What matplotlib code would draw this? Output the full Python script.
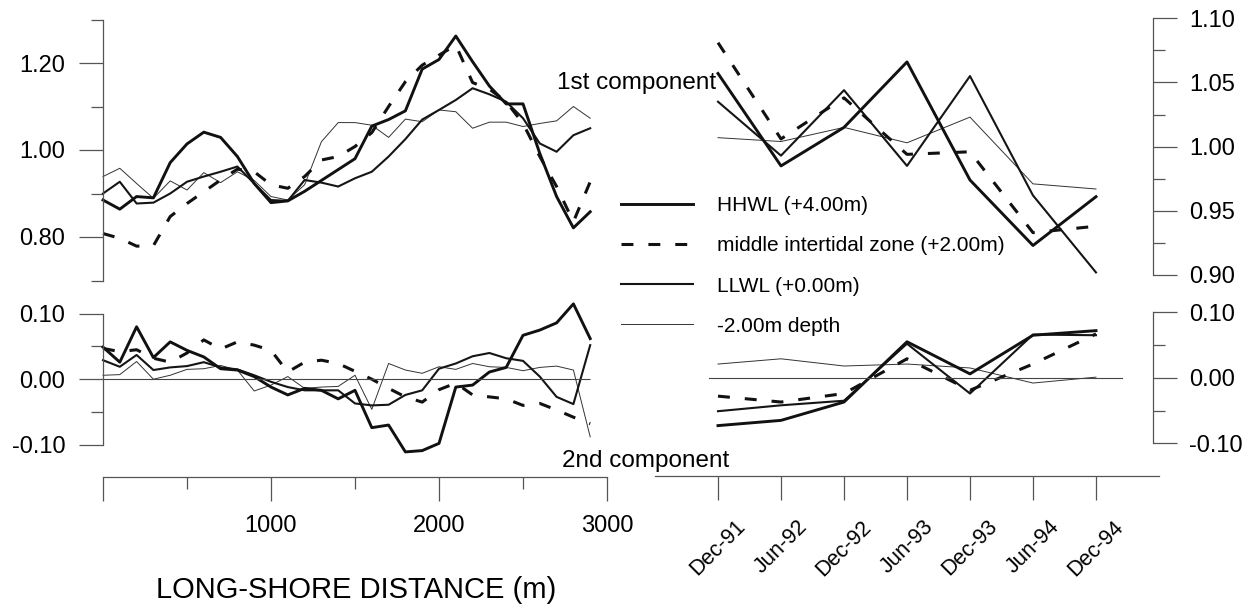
import matplotlib
matplotlib.use("Agg")
from matplotlib import pyplot as plt

plt.rcParams['font.family'] = ['Liberation Sans', 'DejaVu Sans']

# long-shore distance (m) for the left panels
dist = list(range(0, 3000, 100))

# 1st component, left
hhwl_1 = [0.885, 0.864, 0.893, 0.890, 0.971, 1.014, 1.041, 1.029, 0.985, 0.923,
          0.879, 0.883, 0.905, 0.930, 0.955, 0.980, 1.055, 1.070, 1.090, 1.186,
          1.208, 1.262, 1.203, 1.147, 1.106, 1.106, 0.992, 0.893, 0.821, 0.858]
mid_1 = [0.808, 0.797, 0.779, 0.780, 0.847, 0.877, 0.904, 0.931, 0.956, 0.950,
         0.920, 0.912, 0.939, 0.977, 0.985, 1.008, 1.040, 1.100, 1.157, 1.195,
         1.218, 1.241, 1.155, 1.140, 1.111, 1.061, 0.985, 0.916, 0.835, 0.927]
llwl_1 = [0.900, 0.927, 0.877, 0.879, 0.900, 0.927, 0.939, 0.950, 0.962, 0.923,
          0.885, 0.883, 0.931, 0.925, 0.916, 0.935, 0.950, 0.985, 1.025, 1.070,
          1.092, 1.115, 1.142, 1.128, 1.111, 1.073, 1.015, 0.996, 1.034, 1.050]
depth_1 = [0.939, 0.958, 0.923, 0.889, 0.929, 0.908, 0.948, 0.925, 0.950, 0.930,
           0.893, 0.885, 0.920, 1.019, 1.063, 1.063, 1.057, 1.029, 1.071, 1.065,
           1.092, 1.088, 1.050, 1.064, 1.064, 1.054, 1.061, 1.067, 1.100, 1.073]

# 2nd component, left
hhwl_2 = [0.049, 0.026, 0.080, 0.033, 0.057, 0.044, 0.034, 0.016, 0.014, 0.004,
          -0.012, -0.024, -0.014, -0.017, -0.030, -0.017, -0.074, -0.070, -0.111, -0.109,
          -0.098, -0.012, -0.009, 0.011, 0.018, 0.067, 0.075, 0.086, 0.115, 0.062]
mid_2 = [0.047, 0.042, 0.045, 0.032, 0.026, 0.040, 0.060, 0.046, 0.057, 0.052,
         0.044, 0.011, 0.026, 0.029, 0.024, 0.012, 0.000, -0.014, -0.027, -0.035,
         -0.016, -0.006, -0.024, -0.027, -0.030, -0.040, -0.037, -0.047, -0.058, -0.068]
llwl_2 = [0.029, 0.019, 0.037, 0.014, 0.018, 0.020, 0.026, 0.018, 0.015, 0.006,
          -0.004, -0.012, -0.017, -0.017, -0.017, -0.037, -0.040, -0.039, -0.024, -0.017,
          0.016, 0.024, 0.035, 0.040, 0.032, 0.028, 0.004, -0.027, -0.038, 0.052]
depth_2 = [0.006, 0.007, 0.027, 0.000, 0.006, 0.015, 0.016, 0.021, 0.014, -0.018,
           -0.009, 0.004, -0.014, -0.012, -0.011, 0.006, -0.046, 0.024, 0.014, 0.009,
           0.019, 0.015, 0.024, 0.019, 0.018, 0.013, 0.018, 0.020, 0.014, -0.088]

# survey dates for the right panels
dates = ["Dec-91", "Jun-92", "Dec-92", "Jun-93", "Dec-93", "Jun-94", "Dec-94"]
hhwl_3 = [1.057, 0.985, 1.015, 1.066, 0.974, 0.923, 0.961]
mid_3 = [1.081, 1.006, 1.038, 0.994, 0.996, 0.933, 0.938]
llwl_3 = [1.035, 0.993, 1.044, 0.985, 1.055, 0.962, 0.902]
depth_3 = [1.007, 1.004, 1.015, 1.003, 1.023, 0.971, 0.967]

hhwl_4 = [-0.073, -0.065, -0.037, 0.055, 0.006, 0.065, 0.072]
mid_4 = [-0.028, -0.037, -0.024, 0.029, -0.019, 0.021, 0.067]
llwl_4 = [-0.051, -0.042, -0.035, 0.052, -0.024, 0.066, 0.065]
depth_4 = [0.021, 0.029, 0.018, 0.021, 0.015, -0.008, 0.001]

labels = ["HHWL (+4.00m)", "middle intertidal zone (+2.00m)",
          "LLWL (+0.00m)", "-2.00m depth"]
styles = [dict(color="#111111", lw=2.1),
          dict(color="#111111", lw=2.2, ls=(0, (3.9, 4.9))),
          dict(color="#151515", lw=1.5),
          dict(color="#333333", lw=0.7)]

W, H = 1255, 608
fig = plt.figure(figsize=(W / 100, H / 100), dpi=100)


def box(x0, y0, x1, y1):
    return [x0 / W, 1 - y1 / H, (x1 - x0) / W, (y1 - y0) / H]


AXC = "#555555"


def style_axis(ax, side):
    for s in ax.spines.values():
        s.set_visible(False)
    ax.spines[side].set_visible(True)
    ax.spines[side].set_color(AXC)
    ax.spines[side].set_linewidth(0.9)
    ax.patch.set_visible(False)
    ax.tick_params(which="both", color=AXC, width=0.9, direction="out", labelsize=17)
    ax.tick_params(which="major", length=17)
    ax.tick_params(which="minor", length=8.5)


ax_lt = fig.add_axes(box(103, 19.5, 607, 280.5))
ax_lb = fig.add_axes(box(103, 313.7, 607, 444.7))
ax_rt = fig.add_axes(box(655, 18.3, 1153, 275))
ax_rb = fig.add_axes(box(655, 312.3, 1153, 443.3))
ax_lx = fig.add_axes(box(103, 470, 607, 477))
ax_rx = fig.add_axes(box(655, 470, 1159, 476))

series_left = [(ax_lt, [hhwl_1, mid_1, llwl_1, depth_1]),
               (ax_lb, [hhwl_2, mid_2, llwl_2, depth_2])]
series_right = [(ax_rt, [hhwl_3, mid_3, llwl_3, depth_3]),
                (ax_rb, [hhwl_4, mid_4, llwl_4, depth_4])]

handles = []
for ax, ys in series_left:
    for y, st, lab in zip(ys[::-1], styles[::-1], labels[::-1]):
        ln, = ax.plot(dist, y, clip_on=False, label=lab, **st)
        if ax is ax_lt:
            handles.insert(0, ln)
    ax.set_xlim(0, 3000)
    style_axis(ax, "left")
    ax.set_xticks([])
    ax.tick_params(axis="y", pad=10)

xpos = list(range(len(dates)))
for ax, ys in series_right:
    for y, st in zip(ys[::-1], styles[::-1]):
        ax.plot(xpos, y, clip_on=False, **st)
    ax.set_xlim(-1.0, 6.905)
    style_axis(ax, "right")
    ax.yaxis.tick_right()
    ax.set_xticks([])
    ax.tick_params(axis="y", pad=9)

ax_lt.set_ylim(0.70, 1.30)
ax_lt.set_yticks([0.80, 1.00, 1.20], ["0.80", "1.00", "1.20"])
ax_lt.set_yticks([0.70, 0.90, 1.10, 1.30], minor=True)

ax_rt.set_ylim(0.90, 1.10)
ax_rt.set_yticks([0.90, 0.95, 1.00, 1.05, 1.10], ["0.90", "0.95", "1.00", "1.05", "1.10"])
ax_rt.set_yticks([0.925, 0.975, 1.025, 1.075], minor=True)

for ax in (ax_lb, ax_rb):
    ax.set_ylim(-0.10, 0.10)
    ax.set_yticks([-0.10, 0.0, 0.10], ["-0.10", "0.00", "0.10"])
    ax.set_yticks([-0.05, 0.05], minor=True)

ax_lb.hlines(0, dist[0], dist[-1], color="#444444", lw=0.8)
ax_rb.axhline(0, xmin=0.108, xmax=0.938, color="#444444", lw=0.8)

# separate x axes below the panels
style_axis(ax_lx, "bottom")
ax_lx.set_xlim(0, 3000)
ax_lx.set_yticks([])
ax_lx.set_xticks([0, 1000, 2000, 3000], ["", "1000", "2000", "3000"])
ax_lx.set_xticks([500, 1500, 2500], minor=True)
ax_lx.tick_params(axis="x", pad=10)

style_axis(ax_rx, "bottom")
ax_rx.set_xlim(-1.0, 7.0)
ax_rx.set_yticks([])
ax_rx.set_xticks(xpos, dates)
ax_rx.tick_params(axis="x", pad=12, labelsize=15.5)
for t in ax_rx.get_xticklabels():
    t.set_rotation(45)
    t.set_ha("center")
    t.set_va("top")

fig.legend(handles, labels, loc="upper left",
           bbox_to_anchor=(621 / W, 1 - 196 / H), frameon=False, fontsize=15,
           handlelength=3.46, handletextpad=1.15, labelspacing=1.02,
           borderpad=0, borderaxespad=0)

fig.text(557 / W, 1 - 83 / H, "1st component", fontsize=17.5, va="center")
fig.text(562 / W, 1 - 461 / H, "2nd component", fontsize=17.5, va="center")
fig.text(356 / W, 1 - 590 / H, "LONG-SHORE DISTANCE (m)", fontsize=21,
         ha="center", va="center")

fig.savefig("out.png", dpi=100)
